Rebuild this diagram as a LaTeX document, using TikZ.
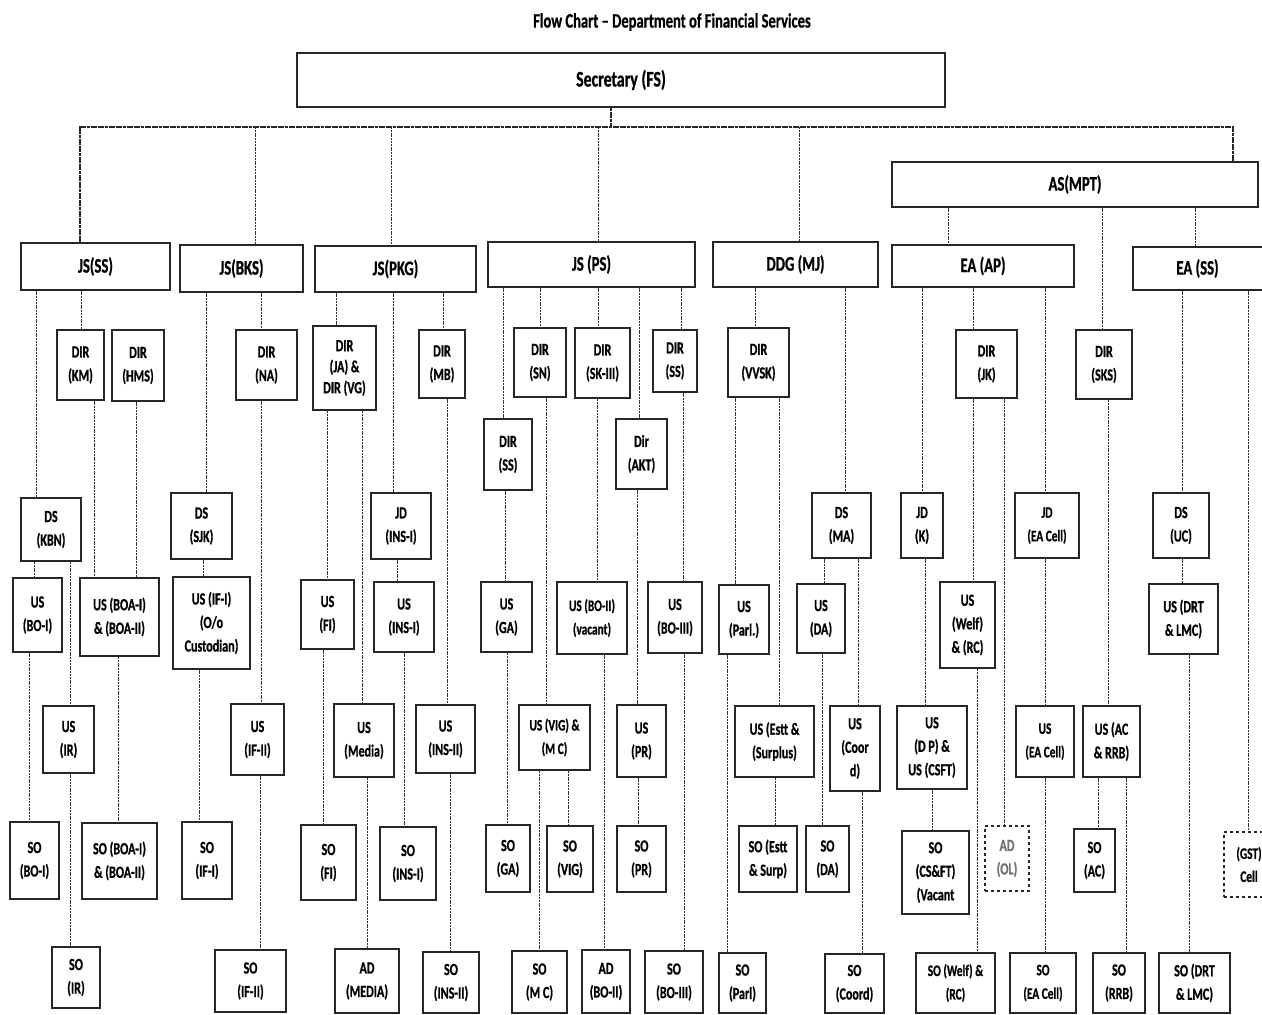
\documentclass[tikz,border=0pt]{standalone}
\usepackage{fontspec}
\setmainfont{Carlito}[FakeStretch=0.71, BoldFeatures={FakeBold=0.8}]
\tikzset{
  box/.style={draw=black!85, line width=1.3pt, fill=white, align=center, inner sep=0pt,
    font=\bfseries\fontsize{17}{23.5}\selectfont},
  thickbox/.style={line width=1.9pt},
  bigbox/.style={font=\bfseries\fontsize{20.7}{24}\selectfont},
  conn/.style={draw=black!80, line width=0.95pt, dash pattern=on 2pt off 0.8pt},
  bus/.style={draw=black!85, line width=1.9pt, dash pattern=on 3pt off 0.6pt},
  titletext/.style={font=\bfseries\fontsize{20.5}{22}\selectfont, inner sep=0pt}
}
\newcommand\obox[7][]{\node[box,minimum width={#5-#3},minimum height={#6-#4},#1] (#2) at ({(#3+#5)/2},{(#4+#6)/2}) {#7};}
\newcommand\vc[3]{\coordinate (tX) at (#3,0); \draw[conn] (#1.south -| tX) -- (#2.north -| tX);}
\begin{document}
\begin{tikzpicture}[x=1pt,y=-1pt]
\useasboundingbox (0,0) rectangle (1262,1015);
\clip (0,0) rectangle (1262,1015);
\node[titletext] (title) at (672,22) {Flow Chart – Department of Financial Services};
% top
\obox[line width=2.2pt,font=\bfseries\fontsize{22.3}{26}\selectfont]{sec}{297}{53}{945}{107}{Secretary (FS)}
\obox[bigbox]{asmpt}{892}{162}{1258}{207}{AS(MPT)}
% level 1
\obox[bigbox]{jsss}{21}{243}{170}{290}{JS(SS)}
\obox[bigbox]{jsbks}{180}{245}{303}{292}{JS(BKS)}
\obox[bigbox]{jspkg}{315}{246}{476}{292}{JS(PKG)}
\obox[bigbox]{jsps}{488}{242}{695}{287}{JS (PS)}
\obox[bigbox]{ddg}{713}{242}{878}{287}{DDG (MJ)}
\obox[bigbox]{eaap}{892}{245}{1074}{287}{EA (AP)}
\obox[bigbox]{eass}{1133}{247}{1285}{290}{EA (SS)\hspace*{23pt}}
% JS(SS)
\obox{dirkm}{57}{330}{104}{400}{DIR\\(KM)}
\obox{dirhms}{112}{330}{164}{401}{DIR\\(HMS)}
\obox[thickbox]{dskbn}{21}{498}{81}{561}{DS\\(KBN)}
\obox{usboi}{13}{578}{62}{652}{US\\(BO-I)}
\obox[thickbox]{usboa}{80}{578}{159}{656}{US (BOA-I)\\\& (BOA-II)}
\obox{usir}{43}{706}{94}{773}{US\\(IR)}
\obox{soboi}{10}{822}{59}{899}{SO\\(BO-I)}
\obox{soboa}{82}{823}{157}{899}{SO (BOA-I)\\\& (BOA-II)}
\obox[thickbox]{soir}{52}{947}{100}{1008}{SO\\(IR)}
% JS(BKS)
\obox{dirna}{236}{330}{297}{400}{DIR\\(NA)}
\obox{dssjk}{171}{493}{232}{559}{DS\\(SJK)}
\obox{usifi}{173}{577}{250}{669}{US (IF-I)\\(O/o\\Custodian)}
\obox{soifi}{182}{822}{232}{899}{SO\\(IF-I)}
\obox{usifii}{231}{704}{284}{775}{US\\(IF-II)}
\obox{soifii}{215}{950}{286}{1012}{SO\\(IF-II)}
% JS(PKG)
\obox[thickbox,font=\bfseries\fontsize{17}{21}\selectfont]{dirja}{313}{326}{376}{410}{DIR\\(JA) \&\\DIR (VG)}
\obox{dirmb}{419}{330}{465}{398}{DIR\\(MB)}
\obox{jdins}{371}{493}{431}{559}{JD\\(INS-I)}
\obox{usfi}{301}{580}{354}{649}{US\\(FI)}
\obox{usinsi}{374}{582}{434}{652}{US\\(INS-I)}
\obox{sofi}{301}{825}{356}{900}{SO\\(FI)}
\obox[thickbox]{usmedia}{334}{704}{394}{777}{US\\(Media)}
\obox{admedia}{335}{949}{399}{1013}{AD\\(MEDIA)}
\obox{soinsi}{380}{827}{436}{900}{SO\\(INS-I)}
\obox{usinsii}{416}{705}{475}{773}{US\\(INS-II)}
\obox{soinsii}{423}{952}{479}{1013}{SO\\(INS-II)}
% JS(PS)
\obox{dirsn}{514}{328}{566}{397}{DIR\\(SN)}
\obox[thickbox]{dirsk}{575}{328}{630}{398}{DIR\\(SK-III)}
\obox{dirssr}{653}{330}{697}{392}{DIR\\(SS)}
\obox{dirssl}{484}{419}{532}{490}{DIR\\(SS)}
\obox{diragt}{616}{419}{667}{489}{Dir\\(AKT)}
\obox[thickbox]{usga}{481}{582}{532}{652}{US\\(GA)}
\obox{soga}{486}{825}{530}{892}{SO\\(GA)}
\obox[thickbox,font=\bfseries\fontsize{16}{23.5}\selectfont]{usvig}{519}{705}{590}{770}{US (VIG) \&\\(M C)}
\obox{sovig}{547}{826}{593}{892}{SO\\(VIG)}
\obox{somc}{512}{951}{567}{1013}{SO\\(M C)}
\obox[font=\bfseries\fontsize{16}{23.5}\selectfont]{usboii}{557}{582}{627}{654}{US (BO-II)\\(vacant)}
\obox{adboii}{582}{950}{630}{1013}{AD\\(BO-II)}
\obox{uspr}{617}{705}{666}{777}{US\\(PR)}
\obox{sopr}{617}{826}{666}{892}{SO\\(PR)}
\obox{usboiii}{648}{582}{702}{653}{US\\(BO-III)}
\obox{soboiii}{645}{951}{703}{1013}{SO\\(BO-III)}
% DDG(MJ)
\obox{dirvvsk}{728}{328}{789}{397}{DIR\\(VVSK)}
\obox{usparl}{719}{585}{769}{654}{US\\(Parl.)}
\obox{soparl}{719}{953}{766}{1013}{SO\\(Parl)}
\obox{dsma}{812}{493}{871}{558}{DS\\(MA)}
\obox{usda}{797}{584}{845}{653}{US\\(DA)}
\obox{soda}{806}{826}{849}{892}{SO\\(DA)}
\obox[thickbox]{usestt}{735}{706}{814}{777}{US (Estt \&\\(Surplus)}
\obox{soestt}{739}{826}{797}{892}{SO (Estt\\\& Surp)}
\obox{uscoord}{830}{706}{880}{791}{US\\(Coor\\d)}
\obox{socoord}{825}{954}{884}{1013}{SO\\(Coord)}
% EA(AP)
\obox{jdk}{901}{493}{943}{558}{JD\\(K)}
\obox{dirjk}{956}{330}{1017}{398}{DIR\\(JK)}
\obox[thickbox]{uswelf}{940}{582}{995}{668}{US\\(Welf)\\\& (RC)}
\obox[font=\bfseries\fontsize{16}{23.5}\selectfont]{jdea}{1015}{493}{1079}{558}{JD\\(EA Cell)}
\obox{usdp}{897}{706}{967}{789}{US\\(D P) \&\\US (CSFT)}
\obox{socsft}{902}{831}{969}{914}{SO\\(CS\&FT)\\(Vacant}
\obox[dashed,text=black!55]{adol}{985}{826}{1029}{891}{AD\\(OL)}
\obox[font=\bfseries\fontsize{16}{23.5}\selectfont]{sowelf}{916}{953}{995}{1013}{SO (Welf) \&\\(RC)}
\obox[font=\bfseries\fontsize{16}{23.5}\selectfont]{usea}{1016}{706}{1074}{777}{US\\(EA Cell)}
\obox[font=\bfseries\fontsize{16}{23.5}\selectfont]{soea}{1010}{953}{1076}{1013}{SO\\(EA Cell)}
% AS(MPT) branch
\obox[thickbox]{dirsks}{1076}{330}{1132}{399}{DIR\\(SKS)}
\obox{usac}{1083}{706}{1140}{777}{US (AC\\\& RRB)}
\obox{soac}{1074}{829}{1115}{892}{SO\\(AC)}
\obox{sorrb}{1093}{953}{1145}{1013}{SO\\(RRB)}
% EA(SS)
\obox{dsuc}{1153}{493}{1209}{558}{DS\\(UC)}
\obox{usdrt}{1149}{584}{1218}{654}{US (DRT\\\& LMC)}
\obox{sodrt}{1159}{953}{1230}{1013}{SO (DRT\\\& LMC)}
\obox[dashed,font=\bfseries\fontsize{16}{23}\selectfont]{gst}{1224}{832}{1274}{897}{(GST)\\Cell}
% bus
\coordinate (bl) at (80,127);
\coordinate (br) at (1233,127);
\coordinate (bm) at (611,127);
\draw[bus] (jsss.north -| bl) -- (bl) -- (br) -- (asmpt.north -| br);
\draw[bus] (sec.south -| bm) -- (bm);
\foreach \xx/\nn in {255/jsbks,391/jspkg,598/jsps,799/ddg}{
  \coordinate (tX) at (\xx,127);
  \draw[conn] (tX) -- (\nn.north -| tX);
}
% AS(MPT)
\vc{asmpt}{eaap}{948}
\vc{asmpt}{dirsks}{1102}
\vc{asmpt}{eass}{1195}
% JS(SS)
\vc{jsss}{dskbn}{36}
\vc{jsss}{dirkm}{81}
\vc{dirkm}{usboa}{94}
\vc{dirhms}{usboa}{136}
\vc{dskbn}{usboi}{34}
\vc{dskbn}{usir}{70}
\vc{usboi}{soboi}{29}
\vc{usir}{soir}{70}
\vc{usboa}{soboa}{118}
% JS(BKS)
\vc{jsbks}{dssjk}{206}
\vc{jsbks}{dirna}{261}
\vc{dssjk}{usifi}{203}
\vc{usifi}{soifi}{199}
\vc{dirna}{usifii}{261}
\vc{usifii}{soifii}{260}
% JS(PKG)
\vc{jspkg}{dirja}{336}
\vc{jspkg}{jdins}{393}
\vc{jspkg}{dirmb}{443}
\vc{dirja}{usfi}{327}
\vc{dirja}{usmedia}{362}
\vc{jdins}{usinsi}{397}
\vc{usfi}{sofi}{323}
\vc{usmedia}{admedia}{367}
\vc{usinsi}{soinsi}{404}
\vc{dirmb}{usinsii}{447}
\vc{usinsii}{soinsii}{450}
% JS(PS)
\vc{jsps}{dirssl}{503}
\vc{jsps}{dirsn}{540}
\vc{jsps}{dirsk}{598}
\vc{jsps}{diragt}{639}
\vc{jsps}{dirssr}{681}
\vc{dirssl}{usga}{505}
\vc{usga}{soga}{507}
\vc{dirsn}{usvig}{546}
\vc{usvig}{somc}{539}
\vc{usvig}{sovig}{568}
\vc{dirsk}{usboii}{597}
\vc{usboii}{adboii}{604}
\vc{diragt}{uspr}{637}
\vc{uspr}{sopr}{638}
\vc{dirssr}{usboiii}{683}
\vc{usboiii}{soboiii}{684}
% DDG
\vc{ddg}{dirvvsk}{755}
\vc{ddg}{dsma}{845}
\vc{dirvvsk}{usparl}{735}
\vc{dirvvsk}{usestt}{779}
\vc{usparl}{soparl}{727}
\vc{dsma}{usda}{824}
\vc{dsma}{uscoord}{858}
\vc{usda}{soda}{822}
\vc{usestt}{soestt}{775}
\vc{uscoord}{socoord}{862}
% EA(AP)
\vc{eaap}{jdk}{922}
\vc{eaap}{dirjk}{973}
\vc{eaap}{jdea}{1045}
\vc{jdk}{usdp}{925}
\vc{dirjk}{uswelf}{973}
\vc{dirjk}{adol}{1004}
\vc{uswelf}{sowelf}{977}
\vc{jdea}{usea}{1045}
\vc{usdp}{socsft}{932}
\vc{usea}{soea}{1045}
% DIR(SKS)
\vc{dirsks}{usac}{1108}
\vc{usac}{soac}{1098}
\vc{usac}{sorrb}{1126}
% EA(SS)
\vc{eass}{dsuc}{1182}
\vc{eass}{gst}{1248}
\vc{dsuc}{usdrt}{1182}
\vc{usdrt}{sodrt}{1189}
\end{tikzpicture}
\end{document}
